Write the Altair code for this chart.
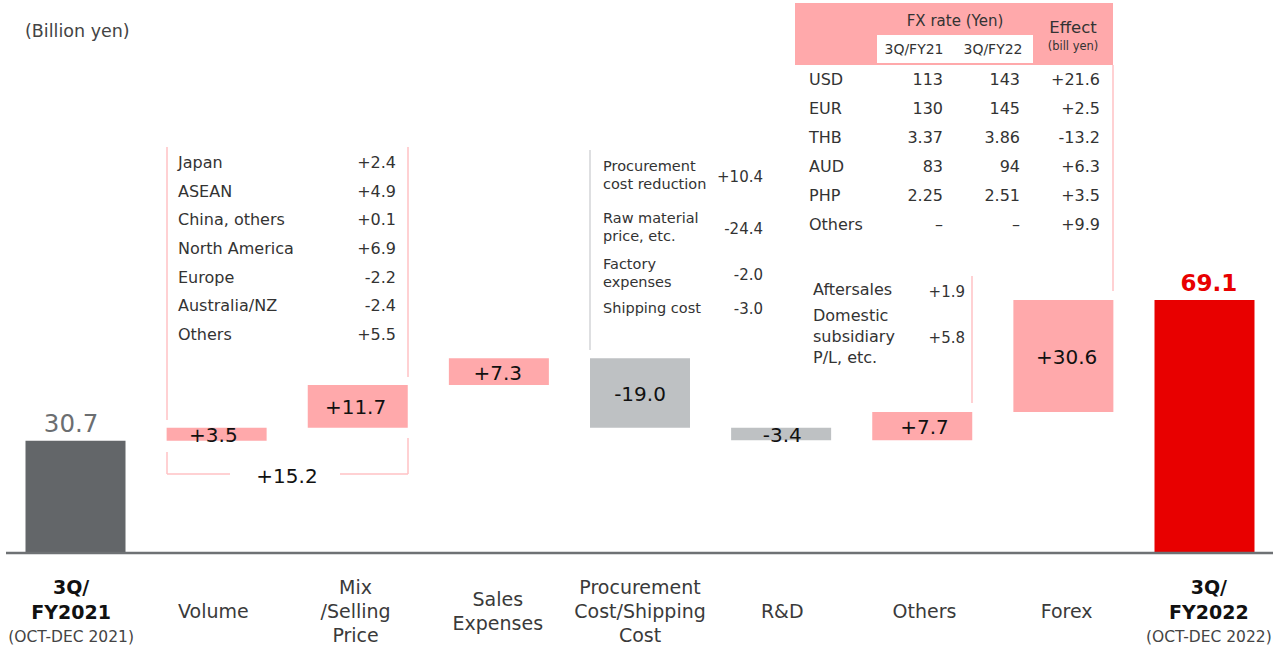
import altair as alt
import pandas as pd

# ---------------------------------------------------------------------------
# Operating profit bridge, 3Q FY2021 -> 3Q FY2022 (billion yen)
# ---------------------------------------------------------------------------
categories = [
    "3Q/FY2021", "Volume", "Mix/Selling Price", "Sales Expenses",
    "Procurement Cost/Shipping Cost", "R&D", "Others", "Forex", "3Q/FY2022",
]
start_total = 30.7
deltas = [3.5, 11.7, 7.3, -19.0, -3.4, 7.7, 30.6]
end_total = 69.1

axis_labels = [
    "", "Volume", "Mix\n/Selling\nPrice", "Sales\nExpenses",
    "Procurement\nCost/Shipping\nCost", "R&D", "Others", "Forex", "",
]
period_heads = ["3Q/\nFY2021", "3Q/\nFY2022"]
period_subs = ["(OCT-DEC 2021)", "(OCT-DEC 2022)"]

# Volume + mix breakdown
volume_regions = ["Japan", "ASEAN", "China, others", "North America",
                  "Europe", "Australia/NZ", "Others"]
volume_values = [2.4, 4.9, 0.1, 6.9, -2.2, -2.4, 5.5]
volume_mix_total = 15.2

# Procurement / shipping breakdown
procurement_items = ["Procurement\ncost reduction", "Raw material\nprice, etc.",
                     "Factory\nexpenses", "Shipping cost"]
procurement_values = [10.4, -24.4, -2.0, -3.0]

# Others breakdown
others_items = ["Aftersales", "Domestic\nsubsidiary\nP/L, etc."]
others_values = [1.9, 5.8]

# FX rates (yen) and profit effect (billion yen)
fx_currencies = ["USD", "EUR", "THB", "AUD", "PHP", "Others"]
fx_rate_fy21 = ["113", "130", "3.37", "83", "2.25", "–"]
fx_rate_fy22 = ["143", "145", "3.86", "94", "2.51", "–"]
fx_effect = [21.6, 2.5, -13.2, 6.3, 3.5, 9.9]


def signed(v):
    return f"{v:+.1f}"


# ---------------------------------------------------------------------------
# Layout / style
# ---------------------------------------------------------------------------
FONT = "DejaVu Sans"
PLOT_W, PLOT_H, BOTTOM = 1280, 553, 98
PX_PER_UNIT = 3.66
PINK = "#FFA9AB"
PINK_LINE = "#FFC2C4"
GREY_NEG = "#BEC1C3"
GREY_START = "#636669"
RED = "#E80000"
TEXT = "#333333"

x_scale = alt.Scale(domain=categories, paddingInner=0.2914, paddingOuter=0.1807)
y_scale = alt.Scale(domain=[0, PLOT_H / PX_PER_UNIT], nice=False, zero=False)


def x_cat():
    return alt.X("cat:N", scale=x_scale, axis=None, sort=categories)


def first_line_y(center, text, line_height):
    """Top line position so that a multi-line block is centred on `center`."""
    n = text.count("\n") + 1
    return center - (n - 1) * line_height / 2


# ---------------------------------------------------------------------------
# Waterfall table
# ---------------------------------------------------------------------------
rows = [dict(cat=categories[0], lo=0.0, hi=start_total, mid=start_total / 2,
             kind="start", label=f"{start_total:.1f}")]
level = start_total
for cat, d in zip(categories[1:-1], deltas):
    new = level + d
    rows.append(dict(cat=cat, lo=min(level, new), hi=max(level, new),
                     mid=(level + new) / 2, kind="up" if d > 0 else "down",
                     label=signed(d)))
    level = new
rows.append(dict(cat=categories[-1], lo=0.0, hi=end_total, mid=end_total / 2,
                 kind="end", label=f"{end_total:.1f}"))
bars_df = pd.DataFrame(rows)

bars = alt.Chart(bars_df).mark_bar().encode(
    x=x_cat(),
    y=alt.Y("lo:Q", scale=y_scale, axis=None),
    y2="hi:Q",
    color=alt.Color("kind:N", legend=None,
                    scale=alt.Scale(domain=["start", "up", "down", "end"],
                                    range=[GREY_START, PINK, GREY_NEG, RED])),
)

delta_labels = alt.Chart(bars_df[bars_df.kind.isin(["up", "down"])]).mark_text(
    font=FONT, fontSize=20, color="#111111", baseline="middle", dy=2,
).encode(x=x_cat(), y=alt.Y("mid:Q", scale=y_scale, axis=None), text="label:N")

start_label = alt.Chart(bars_df[bars_df.kind == "start"]).mark_text(
    font=FONT, fontSize=24.5, color="#6B6E71", fontWeight=500, baseline="middle", dy=-16,
).encode(x=x_cat(), y=alt.Y("hi:Q", scale=y_scale, axis=None), text="label:N")

end_label = alt.Chart(bars_df[bars_df.kind == "end"]).mark_text(
    font=FONT, fontSize=23, color=RED, fontWeight="bold", baseline="middle", dy=-16,
).encode(x=x_cat(), y=alt.Y("hi:Q", scale=y_scale, axis=None), text="label:N")

# ---------------------------------------------------------------------------
# Category labels under the baseline
# ---------------------------------------------------------------------------
CAT_LH = 24
cat_df = pd.DataFrame({"cat": categories, "text": axis_labels})
cat_df = cat_df[cat_df.text != ""].copy()
cat_df["py"] = [first_line_y(611.5, t, CAT_LH) for t in cat_df.text]
cat_text = alt.Chart(cat_df).mark_text(
    font=FONT, fontSize=19, color="#3A3A3A", baseline="middle",
    lineBreak="\n", lineHeight=CAT_LH,
).encode(x=x_cat(), y=alt.Y("py:Q", scale=None, axis=None), text="text:N")

HEAD_LH = 25
period_df = pd.DataFrame({"cat": [categories[0], categories[-1]],
                          "head": period_heads, "sub": period_subs})
period_df["py"] = [first_line_y(600, t, HEAD_LH) for t in period_df["head"]]
period_head = alt.Chart(period_df).mark_text(
    font=FONT, fontSize=19, fontWeight="bold", color="#111111", baseline="middle",
    lineBreak="\n", lineHeight=HEAD_LH,
).encode(x=x_cat(), y=alt.Y("py:Q", scale=None, axis=None), text="head:N")
period_sub = alt.Chart(period_df).mark_text(
    font=FONT, fontSize=15.5, color="#444444", baseline="middle",
).encode(x=x_cat(), y=alt.value(637), text="sub:N")

baseline = alt.Chart(pd.DataFrame({"v": [0.0]})).mark_rule(
    color="#6E7174", strokeWidth=2.5,
).encode(y=alt.Y("v:Q", scale=y_scale, axis=None), x=alt.value(6), x2=alt.value(1273))


# ---------------------------------------------------------------------------
# Annotation helpers (pixel-placed text and frames)
# ---------------------------------------------------------------------------
def px_text(df, align, size, color=TEXT, weight="normal", line_height=None):
    df = df.copy()
    lh = line_height or size * 1.2
    df["py"] = [first_line_y(c, t, lh) for c, t in zip(df["py"], df["text"])]
    kw = dict(font=FONT, fontSize=size, color=color, align=align,
              baseline="middle", fontWeight=weight, lineBreak="\n", lineHeight=lh)
    return alt.Chart(df).mark_text(**kw).encode(
        x=alt.X("px:Q", scale=None, axis=None),
        y=alt.Y("py:Q", scale=None, axis=None),
        text="text:N",
    )


def px_rules(segments, color, width=1.5):
    df = pd.DataFrame(segments, columns=["x", "y", "x2", "y2"])
    return alt.Chart(df).mark_rule(color=color, strokeWidth=width).encode(
        x=alt.X("x:Q", scale=None, axis=None), x2="x2:Q",
        y=alt.Y("y:Q", scale=None, axis=None), y2="y2:Q",
    )


def px_rect(box, color):
    df = pd.DataFrame([box], columns=["x", "y", "x2", "y2"])
    return alt.Chart(df).mark_rect(color=color).encode(
        x=alt.X("x:Q", scale=None, axis=None), x2="x2:Q",
        y=alt.Y("y:Q", scale=None, axis=None), y2="y2:Q",
    )


unit_note = px_text(pd.DataFrame({"px": [25], "py": [32], "text": ["(Billion yen)"]}),
                    "left", 17.5, color="#444444")

# Volume / mix bracket
vol_y = [163 + i * 28.67 for i in range(len(volume_regions))]
vol_names = px_text(pd.DataFrame({"px": 178, "py": vol_y, "text": volume_regions}), "left", 16)
vol_vals = px_text(pd.DataFrame({"px": 396, "py": vol_y,
                                 "text": [signed(v) for v in volume_values]}), "right", 16)
vol_frame = px_rules([
    (167, 147, 167, 420), (167, 452, 167, 474),
    (167, 474, 230, 474), (340, 474, 408, 474),
    (408, 147, 408, 377), (408, 438, 408, 474),
], PINK_LINE)
vol_total = px_text(pd.DataFrame({"px": [287], "py": [477], "text": [signed(volume_mix_total)]}),
                    "center", 20, color="#111111")

# Procurement breakdown
proc_names = px_text(pd.DataFrame({"px": 603, "py": [176, 228, 274, 309],
                                   "text": procurement_items}),
                     "left", 14.5, line_height=18)
proc_vals = px_text(pd.DataFrame({"px": 763, "py": [177, 229, 275, 309],
                                  "text": [signed(v) for v in procurement_values]}),
                    "right", 15)
proc_frame = px_rules([(590, 150, 590, 350)], "#D3D5D7")

# Others breakdown
oth_names = px_text(pd.DataFrame({"px": 813, "py": [290, 337], "text": others_items}),
                    "left", 16, line_height=21)
oth_vals = px_text(pd.DataFrame({"px": 965, "py": [292, 338],
                                 "text": [signed(v) for v in others_values]}), "right", 15)
oth_frame = px_rules([(972, 276, 972, 403)], PINK_LINE)

# FX table
fx_header_bg = px_rect((795, 3, 1113, 65), PINK)
fx_header_cell = px_rect((877, 35, 1033, 63), "#FFFFFF")
fx_frame = px_rules([(1113, 65, 1113, 291)], PINK_LINE)
fx_title = px_text(pd.DataFrame({"px": [955], "py": [21], "text": ["FX rate (Yen)"]}), "center", 15)
fx_effect_head = px_text(pd.DataFrame({"px": [1073], "py": [28], "text": ["Effect"]}), "center", 16.5)
fx_effect_unit = px_text(pd.DataFrame({"px": [1073], "py": [47], "text": ["(bill yen)"]}), "center", 11.5)
fx_periods = px_text(pd.DataFrame({"px": [914, 993], "py": [50, 50],
                                   "text": ["3Q/FY21", "3Q/FY22"]}), "center", 14)
fx_y = [80 + i * 29 for i in range(len(fx_currencies))]
fx_cur = px_text(pd.DataFrame({"px": 809, "py": fx_y, "text": fx_currencies}), "left", 16)
fx_r21 = px_text(pd.DataFrame({"px": 943, "py": fx_y, "text": fx_rate_fy21}), "right", 16)
fx_r22 = px_text(pd.DataFrame({"px": 1020, "py": fx_y, "text": fx_rate_fy22}), "right", 16)
fx_eff = px_text(pd.DataFrame({"px": 1100, "py": fx_y,
                               "text": [signed(v) for v in fx_effect]}), "right", 16)

chart = alt.layer(
    fx_header_bg, fx_header_cell, fx_frame, vol_frame, proc_frame, oth_frame,
    bars, baseline, delta_labels, start_label, end_label,
    cat_text, period_head, period_sub, unit_note,
    vol_names, vol_vals, vol_total, proc_names, proc_vals, oth_names, oth_vals,
    fx_title, fx_effect_head, fx_effect_unit, fx_periods, fx_cur, fx_r21, fx_r22, fx_eff,
).resolve_scale(
    x="independent", y="independent",
).properties(
    width=PLOT_W, height=PLOT_H,
    padding={"left": 0, "top": 0, "right": 0, "bottom": BOTTOM},
    autosize=alt.AutoSizeParams(type="none"),
).configure_view(stroke=None)

chart.save("out.html", embed_options={"renderer": "svg", "actions": False})
